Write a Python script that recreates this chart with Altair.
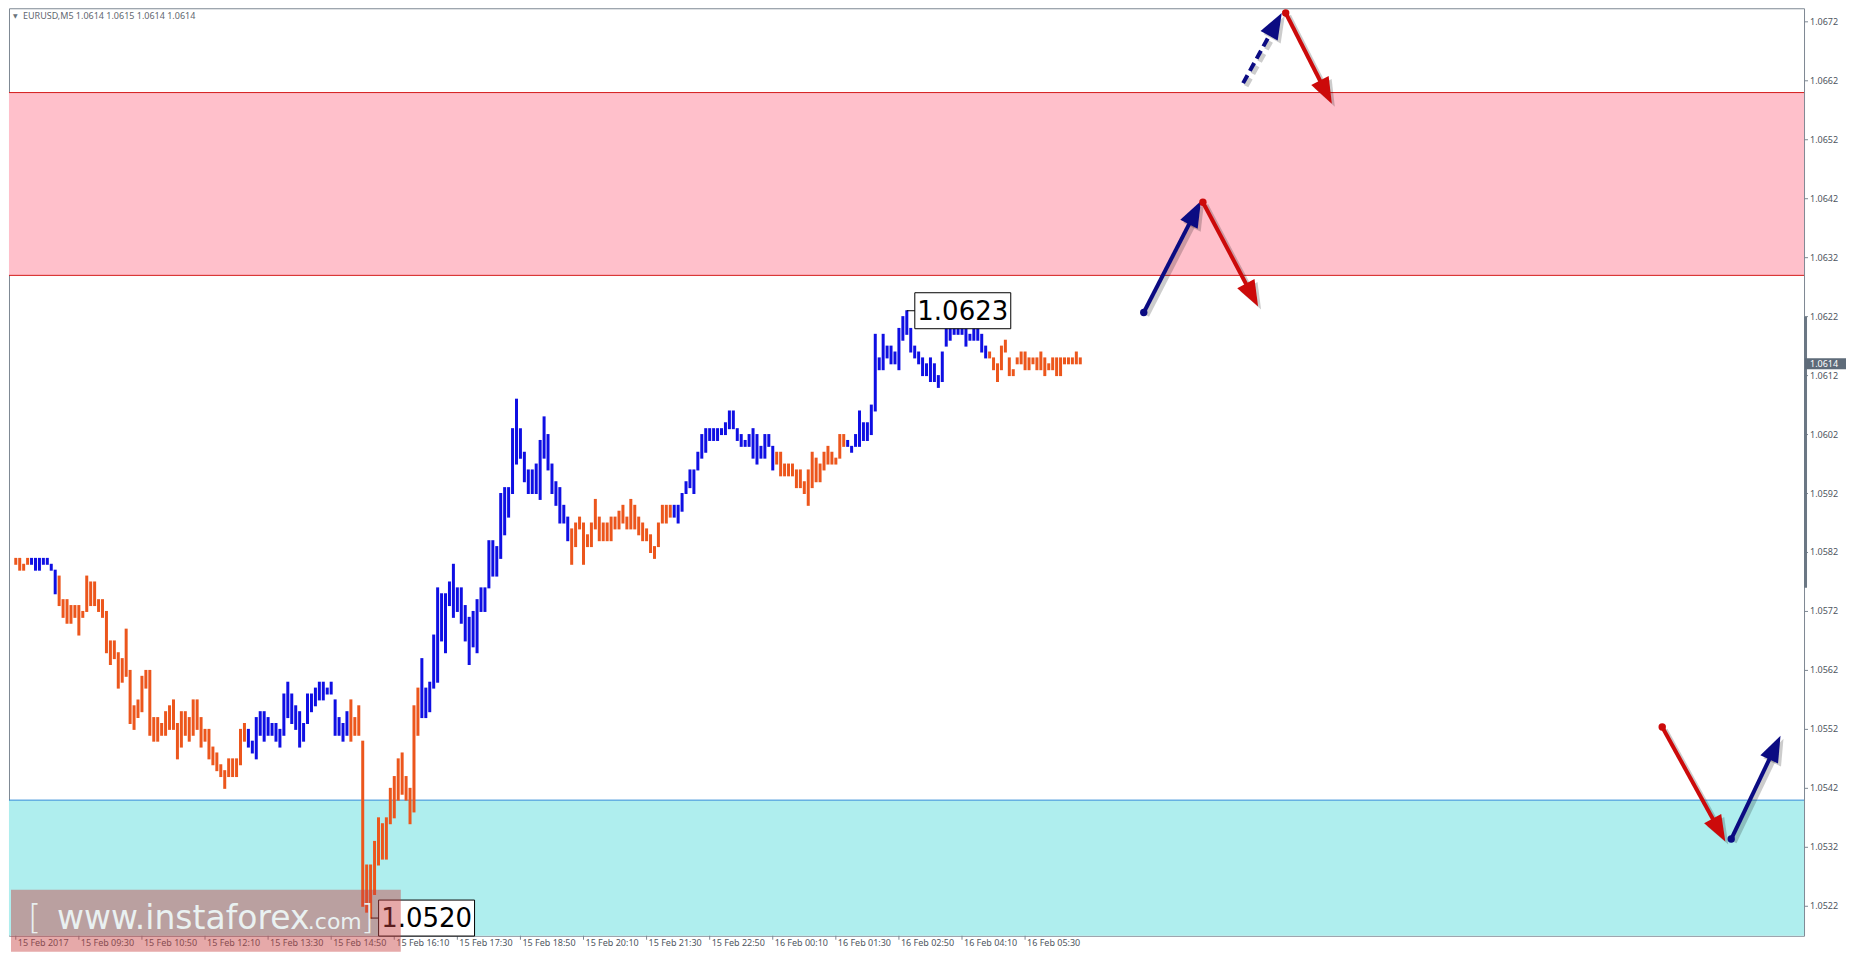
import math
import altair as alt
import pandas as pd

# ---------------- data ----------------
symbol = "EURUSD,M5"
quote = ["1.0614", "1.0615", "1.0614", "1.0614"]

time_labels = ["15 Feb 2017", "15 Feb 09:30", "15 Feb 10:50", "15 Feb 12:10",
               "15 Feb 13:30", "15 Feb 14:50", "15 Feb 16:10", "15 Feb 17:30",
               "15 Feb 18:50", "15 Feb 20:10", "15 Feb 21:30", "15 Feb 22:50",
               "16 Feb 00:10", "16 Feb 01:30", "16 Feb 02:50", "16 Feb 04:10",
               "16 Feb 05:30"]
bars_per_label = 16

price_ticks = [1.0522, 1.0532, 1.0542, 1.0552, 1.0562, 1.0572, 1.0582, 1.0592,
               1.0602, 1.0612, 1.0622, 1.0632, 1.0642, 1.0652, 1.0662, 1.0672]

highs = [
    1.0581, 1.0581, 1.0580, 1.0581, 1.0581, 1.0581, 1.0581, 1.0581, 1.0581, 1.0580,
    1.0579, 1.0578, 1.0574, 1.0574, 1.0573, 1.0573, 1.0573, 1.0572, 1.0578, 1.0577,
    1.0577, 1.0574, 1.0574, 1.0572, 1.0567, 1.0567, 1.0565, 1.0564, 1.0569, 1.0562,
    1.0556, 1.0557, 1.0561, 1.0562, 1.0562, 1.0554, 1.0554, 1.0553, 1.0555, 1.0556,
    1.0557, 1.0553, 1.0555, 1.0555, 1.0554, 1.0557, 1.0557, 1.0554, 1.0552, 1.0552,
    1.0549, 1.0548, 1.0546, 1.0545, 1.0547, 1.0547, 1.0547, 1.0552, 1.0553, 1.0552,
    1.0550, 1.0554, 1.0555, 1.0555, 1.0554, 1.0553, 1.0553, 1.0552, 1.0558, 1.0560,
    1.0558, 1.0556, 1.0555, 1.0553, 1.0558, 1.0558, 1.0559, 1.0560, 1.0560, 1.0559,
    1.0560, 1.0557, 1.0554, 1.0553, 1.0555, 1.0557, 1.0554, 1.0556, 1.0550, 1.0529,
    1.0529, 1.0533, 1.0537, 1.0536, 1.0537, 1.0542, 1.0544, 1.0547, 1.0548, 1.0544,
    1.0542, 1.0556, 1.0559, 1.0564, 1.0559, 1.0560, 1.0568, 1.0576, 1.0575, 1.0575,
    1.0577, 1.0580, 1.0576, 1.0576, 1.0573, 1.0571, 1.0572, 1.0574, 1.0576, 1.0576,
    1.0584, 1.0584, 1.0583, 1.0592, 1.0593, 1.0593, 1.0603, 1.0608, 1.0603, 1.0599,
    1.0596, 1.0596, 1.0597, 1.0601, 1.0605, 1.0602, 1.0597, 1.0594, 1.0593, 1.0590,
    1.0588, 1.0586, 1.0587, 1.0588, 1.0587, 1.0585, 1.0587, 1.0591, 1.0588, 1.0587,
    1.0587, 1.0588, 1.0588, 1.0589, 1.0590, 1.0588, 1.0591, 1.0590, 1.0588, 1.0587,
    1.0586, 1.0585, 1.0583, 1.0587, 1.0590, 1.0590, 1.0590, 1.0590, 1.0590, 1.0592,
    1.0594, 1.0596, 1.0596, 1.0599, 1.0602, 1.0603, 1.0603, 1.0603, 1.0603, 1.0603,
    1.0604, 1.0606, 1.0606, 1.0603, 1.0602, 1.0601, 1.0602, 1.0603, 1.0602, 1.0600,
    1.0602, 1.0602, 1.0600, 1.0599, 1.0599, 1.0597, 1.0597, 1.0597, 1.0596, 1.0596,
    1.0594, 1.0596, 1.0599, 1.0598, 1.0597, 1.0599, 1.0600, 1.0599, 1.0598, 1.0602,
    1.0602, 1.0601, 1.0600, 1.0602, 1.0606, 1.0604, 1.0604, 1.0607, 1.0619, 1.0615,
    1.0619, 1.0617, 1.0617, 1.0616, 1.0620, 1.0622, 1.0623, 1.0620, 1.0617, 1.0616,
    1.0615, 1.0614, 1.0615, 1.0614, 1.0612, 1.0616, 1.0621, 1.0621, 1.0621, 1.0620,
    1.0620, 1.0620, 1.0619, 1.0621, 1.0620, 1.0619, 1.0617, 1.0616, 1.0615, 1.0614,
    1.0617, 1.0618, 1.0615, 1.0613, 1.0615, 1.0616, 1.0616, 1.0615, 1.0615, 1.0615,
    1.0616, 1.0615, 1.0614, 1.0615, 1.0615, 1.0615, 1.0615, 1.0615, 1.0615, 1.0616,
    1.0615,
]
lows = [
    1.0580, 1.0579, 1.0579, 1.0580, 1.0580, 1.0579, 1.0579, 1.0580, 1.0580, 1.0579,
    1.0575, 1.0573, 1.0571, 1.0570, 1.0570, 1.0571, 1.0568, 1.0571, 1.0572, 1.0573,
    1.0573, 1.0572, 1.0571, 1.0565, 1.0563, 1.0564, 1.0559, 1.0560, 1.0561, 1.0553,
    1.0552, 1.0554, 1.0555, 1.0559, 1.0551, 1.0550, 1.0550, 1.0551, 1.0551, 1.0552,
    1.0552, 1.0547, 1.0549, 1.0551, 1.0550, 1.0551, 1.0552, 1.0549, 1.0550, 1.0547,
    1.0546, 1.0545, 1.0544, 1.0542, 1.0544, 1.0544, 1.0544, 1.0546, 1.0550, 1.0549,
    1.0548, 1.0547, 1.0551, 1.0550, 1.0551, 1.0551, 1.0550, 1.0549, 1.0551, 1.0554,
    1.0553, 1.0552, 1.0549, 1.0550, 1.0553, 1.0555, 1.0556, 1.0557, 1.0557, 1.0558,
    1.0558, 1.0551, 1.0551, 1.0550, 1.0551, 1.0550, 1.0551, 1.0551, 1.0522, 1.0521,
    1.0520, 1.0524, 1.0529, 1.0530, 1.0530, 1.0536, 1.0537, 1.0540, 1.0541, 1.0540,
    1.0536, 1.0538, 1.0551, 1.0554, 1.0554, 1.0555, 1.0559, 1.0560, 1.0567, 1.0565,
    1.0573, 1.0571, 1.0572, 1.0570, 1.0567, 1.0563, 1.0566, 1.0565, 1.0572, 1.0572,
    1.0576, 1.0578, 1.0578, 1.0581, 1.0585, 1.0588, 1.0592, 1.0597, 1.0598, 1.0594,
    1.0592, 1.0592, 1.0592, 1.0591, 1.0598, 1.0596, 1.0592, 1.0590, 1.0587, 1.0587,
    1.0584, 1.0580, 1.0583, 1.0586, 1.0580, 1.0583, 1.0583, 1.0586, 1.0584, 1.0584,
    1.0584, 1.0584, 1.0586, 1.0586, 1.0587, 1.0586, 1.0586, 1.0586, 1.0585, 1.0584,
    1.0584, 1.0582, 1.0581, 1.0583, 1.0587, 1.0587, 1.0588, 1.0588, 1.0587, 1.0589,
    1.0592, 1.0593, 1.0592, 1.0596, 1.0598, 1.0599, 1.0601, 1.0601, 1.0601, 1.0602,
    1.0602, 1.0603, 1.0603, 1.0601, 1.0600, 1.0600, 1.0600, 1.0598, 1.0597, 1.0598,
    1.0598, 1.0600, 1.0596, 1.0597, 1.0595, 1.0595, 1.0595, 1.0595, 1.0593, 1.0593,
    1.0592, 1.0590, 1.0593, 1.0594, 1.0594, 1.0596, 1.0597, 1.0597, 1.0597, 1.0598,
    1.0600, 1.0600, 1.0599, 1.0600, 1.0600, 1.0601, 1.0601, 1.0602, 1.0606, 1.0613,
    1.0613, 1.0615, 1.0614, 1.0614, 1.0613, 1.0618, 1.0619, 1.0616, 1.0615, 1.0614,
    1.0612, 1.0612, 1.0611, 1.0611, 1.0610, 1.0611, 1.0617, 1.0618, 1.0619, 1.0619,
    1.0619, 1.0617, 1.0618, 1.0618, 1.0618, 1.0616, 1.0615, 1.0615, 1.0613, 1.0611,
    1.0613, 1.0616, 1.0612, 1.0612, 1.0614, 1.0614, 1.0613, 1.0613, 1.0614, 1.0613,
    1.0613, 1.0612, 1.0613, 1.0613, 1.0612, 1.0612, 1.0614, 1.0614, 1.0614, 1.0614,
    1.0614,
]
# wave colouring of the bars: (direction, number of bars)
wave_runs = [("down", 4), ("up", 7), ("down", 48), ("up", 26), ("down", 18),
             ("up", 38), ("down", 26), ("up", 26), ("down", 18), ("up", 36),
             ("down", 24)]

last_price = 1.0614
scale_marker = [1.0622, 1.0576]
resistance_zone = [1.0660, 1.0629]
support_zone_top = 1.0540
extremes_bar = [226, 90]
extremes_price = [1.0623, 1.0520]

# forecast arrows: start (bar, price) -> tip (bar, price)
arrow_kind = ["up", "down", "up", "down", "down", "up"]
arrow_dashed = [False, False, True, False, False, False]
arrow_dot = [True, True, False, True, True, True]
arrow_i1 = [286.1, 301.1, 311.3, 322.1, 417.6, 435.1]
arrow_p1 = [1.06227, 1.06414, 1.06616, 1.06735, 1.05524, 1.05334]
arrow_i2 = [300.6, 315.1, 321.1, 333.8, 433.6, 447.6]
arrow_p2 = [1.06416, 1.06237, 1.06735, 1.06581, 1.05330, 1.05509]

# ---------------- styling ----------------
W, H = 1796, 928
X0, X1 = -0.45, 452.3
Y0, Y1 = 1.05170, 1.06743
ORANGE = "#EC561C"
BLUE = "#0F0FE3"
NAVY = "#0B0B82"
RED = "#CC0A0A"
PINK = "#FFC0CB"
CYAN = "#AFEEEE"
AX = "#7D8893"
TXT = "#4E5660"
FONT = "Noto Sans"

xs = alt.Scale(domain=[X0, X1], nice=False, zero=False)
ys = alt.Scale(domain=[Y0, Y1], nice=False, zero=False)


def X(f):
    return alt.X(f, scale=xs, axis=None)


def Y(f):
    return alt.Y(f, scale=ys, axis=None)


wave = []
for d, n in wave_runs:
    wave += [d] * n
df = pd.DataFrame({"i": range(len(highs)), "high": highs, "low": lows,
                   "col": [ORANGE if w == "down" else BLUE for w in wave]})

# zones
zdf = pd.DataFrame({"top": [resistance_zone[0], support_zone_top],
                    "bot": [resistance_zone[1], Y0], "fill": [PINK, CYAN]})
zones = alt.Chart(zdf).mark_rect().encode(
    x=alt.value(0), x2=alt.value(W), y=Y("top:Q"), y2="bot:Q",
    fill=alt.Fill("fill:N", scale=None))
zl = pd.DataFrame({"p": [resistance_zone[0], resistance_zone[1], support_zone_top],
                   "c": ["#D41A1A", "#D41A1A", "#2F8BD8"]})
zone_lines = alt.Chart(zl).mark_rule(strokeWidth=1).encode(
    x=alt.value(0), x2=alt.value(W), y=Y("p:Q"), color=alt.Color("c:N", scale=None))

# bars
bars = alt.Chart(df).mark_bar(width=3, yOffset=-0.5, y2Offset=0.5).encode(
    x=X("i:Q"), y=Y("high:Q"), y2="low:Q", color=alt.Color("col:N", scale=None))

# axes drawn with the shared scales
tdf = pd.DataFrame({"i": [k * bars_per_label for k in range(len(time_labels))],
                    "t": time_labels})
x_ticks = alt.Chart(tdf).mark_rule(color=AX, strokeWidth=1).encode(
    x=X("i:Q"), y=alt.value(H), y2=alt.value(H + 4))
x_labels = alt.Chart(tdf).mark_text(font=FONT, fontSize=9, color=TXT, align="left",
                                    baseline="top", dx=2).encode(
    x=X("i:Q"), y=alt.value(H + 3), text="t:N")
ydf = pd.DataFrame({"p": price_ticks, "t": ["%.4f" % v for v in price_ticks]})
y_ticks = alt.Chart(ydf).mark_rule(color=AX, strokeWidth=1).encode(
    x=alt.value(W), x2=alt.value(W + 4), y=Y("p:Q"))
y_labels = alt.Chart(ydf).mark_text(font=FONT, fontSize=9, color=TXT, align="left",
                                    baseline="middle").encode(
    x=alt.value(W + 6), y=Y("p:Q"), text="t:N")

# extreme labels
edf = pd.DataFrame({"i": extremes_bar, "p": extremes_price,
                    "t": ["%.4f" % v for v in extremes_price]})
ebox = alt.Chart(edf).mark_rect(fill="white", stroke="black", strokeWidth=1,
                                xOffset=8, x2Offset=104, yOffset=-18, y2Offset=18).encode(
    x=X("i:Q"), x2="i:Q", y=Y("p:Q"), y2="p:Q")
elink = alt.Chart(edf).mark_rule(color="black", strokeWidth=1, x2Offset=8).encode(
    x=X("i:Q"), x2="i:Q", y=Y("p:Q"))
etext = alt.Chart(edf).mark_text(font="DejaVu Sans", fontSize=26, color="black",
                                 align="center", baseline="middle", xOffset=56, yOffset=1).encode(
    x=X("i:Q"), y=Y("p:Q"), text="t:N")

# arrows
kx = W / (X1 - X0)
ky = H / (Y1 - Y0)
rows = []
for k in range(len(arrow_kind)):
    dx = (arrow_i2[k] - arrow_i1[k]) * kx
    dy = -(arrow_p2[k] - arrow_p1[k]) * ky
    L = math.hypot(dx, dy)
    ux, uy = dx / L, dy / L
    back = 18
    rows.append({
        "i1": arrow_i1[k], "p1": arrow_p1[k], "i2": arrow_i2[k], "p2": arrow_p2[k],
        "ie": arrow_i2[k] - back * ux / kx, "pe": arrow_p2[k] + back * uy / ky,
        "ang": math.degrees(math.atan2(ux, -uy)) % 360,
        "col": NAVY if arrow_kind[k] == "up" else RED,
        "dashed": arrow_dashed[k], "dot": arrow_dot[k]})
adf = pd.DataFrame(rows)
solid = adf[~adf["dashed"]]
dashed = adf[adf["dashed"]]
dots = adf[adf["dot"]]
HEAD = "M0,0L0.75,2L-0.75,2Z"

sh = dict(xOffset=3, x2Offset=3, yOffset=3, y2Offset=3)
a_shadow = alt.Chart(solid).mark_rule(strokeWidth=5, color="black", opacity=0.2, **sh).encode(
    x=X("i1:Q"), x2="ie:Q", y=Y("p1:Q"), y2="pe:Q")
a_shadow_d = alt.Chart(dashed).mark_rule(strokeWidth=5, color="black", opacity=0.2,
                                         strokeDash=[9, 5], **sh).encode(
    x=X("i1:Q"), x2="ie:Q", y=Y("p1:Q"), y2="pe:Q")
a_line = alt.Chart(solid).mark_rule(strokeWidth=4).encode(
    x=X("i1:Q"), x2="ie:Q", y=Y("p1:Q"), y2="pe:Q", color=alt.Color("col:N", scale=None))
a_line_d = alt.Chart(dashed).mark_rule(strokeWidth=4, strokeDash=[9, 5]).encode(
    x=X("i1:Q"), x2="ie:Q", y=Y("p1:Q"), y2="pe:Q", color=alt.Color("col:N", scale=None))
h_shadow = alt.Chart(adf).mark_point(shape=HEAD, filled=True, size=680, opacity=0.2,
                                     color="black", strokeWidth=0, xOffset=3, yOffset=3).encode(
    x=X("i2:Q"), y=Y("p2:Q"), angle=alt.Angle("ang:Q", scale=None))
heads = alt.Chart(adf).mark_point(shape=HEAD, filled=True, size=680, opacity=1,
                                  strokeWidth=0).encode(
    x=X("i2:Q"), y=Y("p2:Q"), angle=alt.Angle("ang:Q", scale=None),
    color=alt.Color("col:N", scale=None))
a_dots = alt.Chart(dots).mark_circle(size=55, opacity=1).encode(
    x=X("i1:Q"), y=Y("p1:Q"), color=alt.Color("col:N", scale=None))

# watermark
wm_rect = alt.Chart(pd.DataFrame({"a": [0]})).mark_rect(color="#C84040", opacity=0.45).encode(
    x=alt.value(2), x2=alt.value(392), y=alt.value(882), y2=alt.value(H + 16))
WM = "#EEF8F8"
BASE = 921
wm1 = alt.Chart(pd.DataFrame({"t": ["["]})).mark_text(
    font="DejaVu Sans", fontSize=34, color=WM, opacity=0.9, align="left",
    baseline="alphabetic", fontWeight=300).encode(x=alt.value(19), y=alt.value(BASE), text="t:N")
wm2 = alt.Chart(pd.DataFrame({"t": ["www.instaforex"]})).mark_text(
    font="DejaVu Sans", fontSize=33, color=WM, opacity=0.92, align="left",
    baseline="alphabetic").encode(x=alt.value(48), y=alt.value(BASE), text="t:N")
wm3 = alt.Chart(pd.DataFrame({"t": [".com"]})).mark_text(
    font="DejaVu Sans", fontSize=22, color=WM, opacity=0.92, align="left",
    baseline="alphabetic").encode(x=alt.value(299), y=alt.value(BASE), text="t:N")
wm4 = alt.Chart(pd.DataFrame({"t": ["]"]})).mark_text(
    font="DejaVu Sans", fontSize=34, color=WM, opacity=0.9, align="left",
    baseline="alphabetic", fontWeight=300).encode(x=alt.value(352), y=alt.value(BASE), text="t:N")

# header
hdr = alt.Chart(pd.DataFrame({"t": [symbol + "  " + " ".join(quote)]})).mark_text(
    font=FONT, fontSize=9, color="#5F6770", align="left", baseline="middle").encode(
    x=alt.value(14), y=alt.value(8), text="t:N")
hdr_tri = alt.Chart(pd.DataFrame({"t": ["\u25BC"]})).mark_text(
    font="DejaVu Sans", fontSize=6, color="#6A737C", align="left", baseline="middle").encode(
    x=alt.value(4), y=alt.value(8), text="t:N")

# right scale extras
mdf = pd.DataFrame({"a": [scale_marker[0]], "b": [scale_marker[1]]})
marker = alt.Chart(mdf).mark_rule(strokeWidth=3, color="#6B7784").encode(
    x=alt.value(W + 1.5), y=Y("a:Q"), y2="b:Q")
pdf = pd.DataFrame({"p": [last_price], "t": ["%.4f" % last_price]})
pbox = alt.Chart(pdf).mark_rect(color="#5E6B79", yOffset=-5.5, y2Offset=5.5).encode(
    x=alt.value(W + 1), x2=alt.value(W + 42), y=Y("p:Q"), y2="p:Q")
ptext = alt.Chart(pdf).mark_text(font=FONT, fontSize=9, color="white", align="left",
                                 baseline="middle").encode(
    x=alt.value(W + 6), y=Y("p:Q"), text="t:N")

chart = alt.layer(
    zones, zone_lines, bars, x_ticks, x_labels, y_ticks, y_labels,
    ebox, elink, etext,
    a_shadow, a_shadow_d, h_shadow, a_line, a_line_d, heads, a_dots,
    wm_rect, wm1, wm2, wm3, wm4, hdr, hdr_tri, marker, pbox, ptext,
).properties(
    width=W, height=H,
    padding={"left": 0, "top": 0, "right": 0, "bottom": 0},
    background="white",
).configure_view(stroke=AX, strokeWidth=1)

chart.save("out.html", embed_options={"renderer": "svg", "actions": False})
